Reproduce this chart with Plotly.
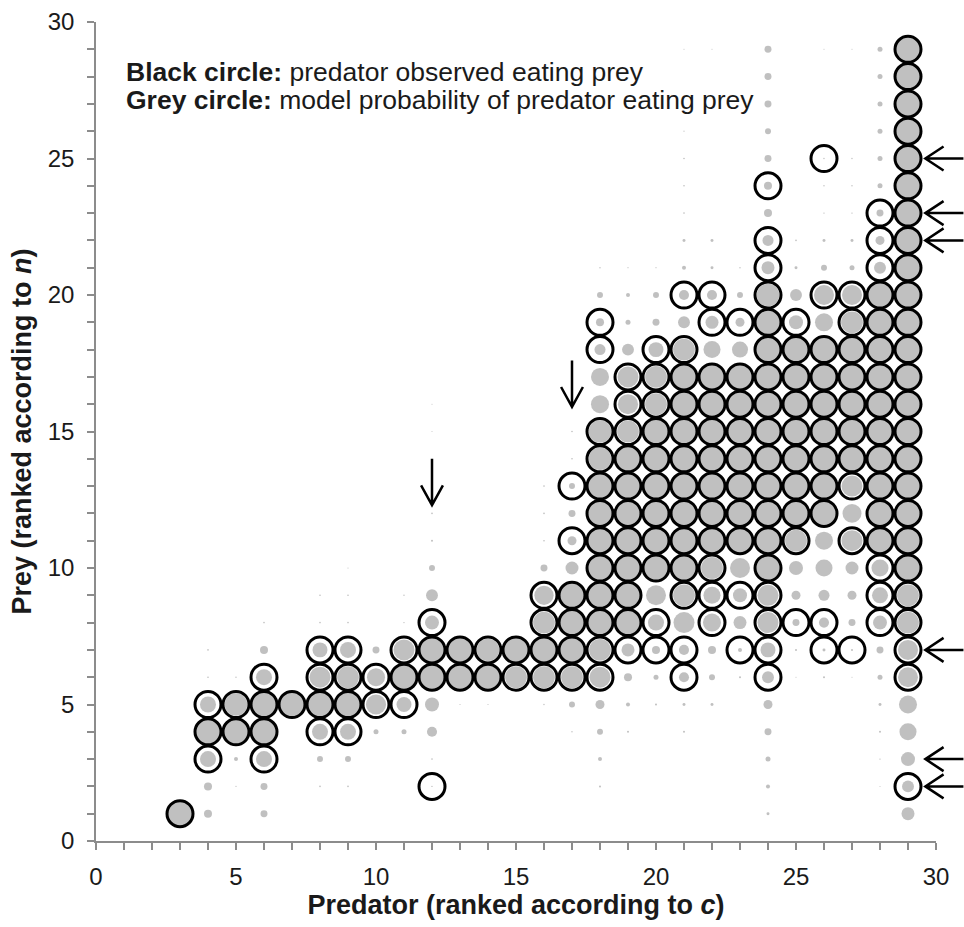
import math
import plotly.graph_objects as go

# ---------------- data ----------------
# model probability (grey circles): predator -> {prey: probability}
prob_03 = {1: 1.0}
prob_04 = {1: 0.095, 2: 0.095, 3: 0.38, 4: 1.0, 5: 0.38, 6: 0.004, 7: 0.004}
prob_05 = {2: 0.002, 3: 0.024, 4: 1.0, 5: 0.75, 6: 0.003}
prob_06 = {1: 0.072, 2: 0.072, 3: 0.38, 4: 1.0, 5: 1.0, 6: 0.38, 7: 0.095, 8: 0.004}
prob_07 = {5: 1.0}
prob_08 = {2: 0.004, 3: 0.053, 4: 0.38, 5: 1.0, 6: 0.65, 7: 0.33, 8: 0.004, 9: 0.004}
prob_09 = {2: 0.004, 3: 0.053, 4: 0.38, 5: 1.0, 6: 0.7, 7: 0.38, 8: 0.004, 9: 0.004, 10: 0.002}
prob_10 = {4: 0.037, 5: 0.6, 6: 0.48, 7: 0.072}
prob_11 = {4: 0.037, 5: 0.33, 6: 1.0, 7: 0.65, 8: 0.003, 9: 0.003}
prob_12 = {2: 0.003, 3: 0.004, 4: 0.15, 5: 0.29, 6: 1.0, 7: 1.0, 8: 0.29, 9: 0.21,
           10: 0.053, 11: 0.006, 12: 0.004, 15: 0.0015, 16: 0.0015}
prob_13 = {5: 0.002, 6: 1.0, 7: 0.9}
prob_14 = {5: 0.002, 6: 1.0, 7: 0.75}
prob_15 = {6: 0.7, 7: 1.0}
prob_16 = {5: 0.003, 6: 0.7, 7: 1.0, 8: 0.7, 9: 0.55, 10: 0.072, 11: 0.004, 12: 0.004, 13: 0.004}
prob_17 = {4: 0.003, 5: 0.053, 6: 0.7, 7: 1.0, 8: 1.0, 9: 1.0, 10: 0.25, 11: 0.12, 12: 0.072,
           13: 0.053, 14: 0.004, 15: 0.004}
prob_18 = {2: 0.006, 3: 0.024, 4: 0.053, 5: 0.12, 6: 0.65, 7: 0.7, 8: 1.0, 9: 1.0, 10: 1.0,
           11: 1.0, 12: 1.0, 13: 1.0, 14: 0.75, 15: 0.75, 16: 0.48, 17: 0.48, 18: 0.18,
           19: 0.095, 20: 0.053, 21: 0.003}
prob_19 = {4: 0.006, 5: 0.024, 6: 0.095, 7: 0.25, 8: 0.85, 9: 1.0, 10: 1.0, 11: 1.0, 12: 1.0,
           13: 1.0, 14: 1.0, 15: 0.7, 16: 0.6, 17: 0.65, 18: 0.21, 19: 0.037, 20: 0.024, 21: 0.002}
prob_20 = {5: 0.006, 6: 0.037, 7: 0.095, 8: 0.38, 9: 0.59, 10: 1.0, 11: 1.0, 12: 1.0, 13: 1.0,
           14: 1.0, 15: 1.0, 16: 0.7, 17: 0.7, 18: 0.33, 19: 0.072, 20: 0.053, 21: 0.002}
prob_21 = {4: 0.006, 5: 0.013, 6: 0.15, 7: 0.15, 8: 0.65, 9: 0.7, 10: 1.0, 11: 1.0, 12: 1.0,
           13: 1.0, 14: 1.0, 15: 1.0, 16: 1.0, 17: 1.0, 18: 0.7, 19: 0.21, 20: 0.15, 21: 0.024,
           22: 0.013, 23: 0.004, 24: 0.004, 25: 0.004, 26: 0.002, 29: 0.0015}
prob_22 = {5: 0.013, 6: 0.053, 7: 0.095, 8: 0.48, 9: 0.43, 10: 0.7, 11: 1.0, 12: 1.0, 13: 1.0,
           14: 1.0, 15: 1.0, 16: 1.0, 17: 1.0, 18: 0.43, 19: 0.25, 20: 0.15, 21: 0.013,
           22: 0.013, 29: 0.0015}
prob_23 = {6: 0.006, 7: 0.024, 8: 0.25, 9: 0.29, 10: 0.59, 11: 1.0, 12: 1.0, 13: 1.0, 14: 1.0,
           15: 1.0, 16: 1.0, 17: 1.0, 18: 0.38, 19: 0.12, 20: 0.053, 21: 0.003}
prob_24 = {1: 0.013, 2: 0.024, 3: 0.037, 4: 0.072, 5: 0.12, 6: 0.21, 7: 0.33, 8: 0.65, 9: 0.65,
           10: 1.0, 11: 1.0, 12: 1.0, 13: 1.0, 14: 1.0, 15: 1.0, 16: 1.0, 17: 1.0, 18: 1.0,
           19: 1.0, 20: 0.75, 21: 0.25, 22: 0.18, 23: 0.095, 24: 0.095, 25: 0.072, 26: 0.053,
           27: 0.072, 28: 0.072, 29: 0.072}
prob_25 = {6: 0.0015, 7: 0.006, 8: 0.072, 9: 0.12, 10: 0.29, 11: 0.7, 12: 0.9, 13: 0.9, 14: 1.0,
           15: 1.0, 16: 1.0, 17: 1.0, 18: 1.0, 19: 0.29, 20: 0.21, 21: 0.013, 22: 0.004}
prob_26 = {6: 0.006, 7: 0.013, 8: 0.15, 9: 0.18, 10: 0.43, 11: 0.48, 12: 0.9, 13: 0.9, 14: 1.0,
           15: 1.0, 16: 1.0, 17: 1.0, 18: 1.0, 19: 0.48, 20: 0.59, 21: 0.053, 22: 0.013,
           23: 0.003, 24: 0.003, 25: 0.003, 29: 0.0015}
prob_27 = {6: 0.0015, 7: 0.006, 8: 0.072, 9: 0.12, 10: 0.25, 11: 0.65, 12: 0.53, 13: 0.65,
           14: 1.0, 15: 1.0, 16: 1.0, 17: 1.0, 18: 1.0, 19: 0.7, 20: 0.59, 21: 0.037, 22: 0.013,
           23: 0.003, 24: 0.003, 25: 0.003, 29: 0.0015}
prob_28 = {2: 0.0015, 3: 0.003, 4: 0.006, 5: 0.013, 6: 0.037, 7: 0.072, 8: 0.29, 9: 0.38,
           10: 0.43, 11: 1.0, 12: 1.0, 13: 1.0, 14: 1.0, 15: 1.0, 16: 1.0, 17: 1.0, 18: 1.0,
           19: 1.0, 20: 1.0, 21: 0.21, 22: 0.12, 23: 0.072, 24: 0.037, 25: 0.037, 26: 0.037,
           27: 0.037, 28: 0.037, 29: 0.037}
prob_29 = {1: 0.25, 2: 0.21, 3: 0.29, 4: 0.43, 5: 0.48, 6: 0.59, 7: 0.59, 8: 0.7, 9: 0.7,
           10: 0.85, 11: 1.0, 12: 1.0, 13: 1.0, 14: 1.0, 15: 1.0, 16: 1.0, 17: 1.0, 18: 1.0,
           19: 1.0, 20: 1.0, 21: 1.0, 22: 1.0, 23: 1.0, 24: 1.0, 25: 1.0, 26: 1.0, 27: 1.0,
           28: 1.0, 29: 1.0}

model_prob = {3: prob_03, 4: prob_04, 5: prob_05, 6: prob_06, 7: prob_07, 8: prob_08,
              9: prob_09, 10: prob_10, 11: prob_11, 12: prob_12, 13: prob_13, 14: prob_14,
              15: prob_15, 16: prob_16, 17: prob_17, 18: prob_18, 19: prob_19, 20: prob_20,
              21: prob_21, 22: prob_22, 23: prob_23, 24: prob_24, 25: prob_25, 26: prob_26,
              27: prob_27, 28: prob_28, 29: prob_29}

# observed feeding links (black circles): predator -> prey list
observed = {
    3: [1], 4: [3, 4, 5], 5: [4, 5], 6: [3, 4, 5, 6], 7: [5],
    8: [4, 5, 6, 7], 9: [4, 5, 6, 7], 10: [5, 6], 11: [5, 6, 7], 12: [2, 6, 7, 8],
    13: [6, 7], 14: [6, 7], 15: [6, 7], 16: [6, 7, 8, 9], 17: [6, 7, 8, 9, 11, 13],
    18: [6, 7, 8, 9, 10, 11, 12, 13, 14, 15, 18, 19],
    19: [7, 8, 9, 10, 11, 12, 13, 14, 15, 16, 17],
    20: [7, 8, 10, 11, 12, 13, 14, 15, 16, 17, 18],
    21: [6, 7, 9, 10, 11, 12, 13, 14, 15, 16, 17, 18, 20],
    22: [8, 9, 10, 11, 12, 13, 14, 15, 16, 17, 19, 20],
    23: [7, 9, 11, 12, 13, 14, 15, 16, 17, 19],
    24: [6, 7, 8, 9, 10, 11, 12, 13, 14, 15, 16, 17, 18, 19, 20, 21, 22, 24],
    25: [8, 11, 12, 13, 14, 15, 16, 17, 18, 19],
    26: [7, 8, 12, 13, 14, 15, 16, 17, 18, 20, 25],
    27: [7, 11, 13, 14, 15, 16, 17, 18, 19, 20],
    28: [8, 9, 10, 11, 12, 13, 14, 15, 16, 17, 18, 19, 20, 21, 22, 23],
    29: [2, 6, 7, 8, 9, 10, 11, 12, 13, 14, 15, 16, 17, 18, 19, 20, 21, 22, 23, 24, 25,
         26, 27, 28, 29],
}

arrow_down_pred = [12, 17]          # predators flagged with a downward arrow
arrow_down_tip = [12.3, 15.9]
arrow_left_prey = [25, 23, 22, 7, 3, 2]   # prey flagged for predator 29

x_ticks = [0, 5, 10, 15, 20, 25, 30]
y_ticks = [0, 5, 10, 15, 20, 25, 30]

# ---------------- build ----------------
FULL = 26  # marker diameter (px) for probability 1
gx, gy, gs = [], [], []
for pred, col in model_prob.items():
    for prey, p in col.items():
        gx.append(pred)
        gy.append(prey)
        gs.append(FULL * math.sqrt(p))

ox, oy = [], []
for pred, preys in observed.items():
    for prey in preys:
        ox.append(pred)
        oy.append(prey)

fig = go.Figure()
fig.add_trace(go.Scatter(
    x=gx, y=gy, mode="markers", cliponaxis=False, hoverinfo="skip",
    marker=dict(size=gs, color="#a5a5a5", line=dict(width=0)), showlegend=False))
fig.add_trace(go.Scatter(
    x=ox, y=oy, mode="markers", cliponaxis=False, hoverinfo="skip",
    marker=dict(size=FULL, color="rgba(0,0,0,0)", line=dict(width=3, color="#000000")),
    showlegend=False))

XR, YR = 30.0, 30.0
shapes = []
for xp, tip in zip(arrow_down_pred, arrow_down_tip):
    px = xp / XR
    t = tip / YR
    tail = (tip + 1.7) / YR
    arm_y = (tip + 0.73) / YR
    dx = 0.39 / XR
    path = f"M {px} {tail} L {px} {t} M {px - dx} {arm_y} L {px} {t} L {px + dx} {arm_y}"
    shapes.append(dict(type="path", xref="paper", yref="paper", path=path,
                       line=dict(color="#000000", width=2.5)))
for prey in arrow_left_prey:
    tipx = 29.62 / XR
    tailx = 30.98 / XR
    armx = (29.62 + 0.65) / XR
    py = prey / YR
    dy = 0.44 / YR
    path = f"M {tailx} {py} L {tipx} {py} M {armx} {py + dy} L {tipx} {py} L {armx} {py - dy}"
    shapes.append(dict(type="path", xref="paper", yref="paper", path=path,
                       line=dict(color="#000000", width=2.5)))

FONT = "Liberation Sans, Arial, sans-serif"
axis_common = dict(
    range=[0, 30], showgrid=False, zeroline=False, showline=True,
    linecolor="#8c8c8c", linewidth=1.5, ticks="outside", ticklen=7,
    tickcolor="#8c8c8c", tickwidth=1.5,
    minor=dict(dtick=1, ticks="outside", ticklen=7, tickcolor="#8c8c8c", tickwidth=1.5,
               showgrid=False),
    tickfont=dict(family=FONT, size=24, color="#1a1a1a"),
    fixedrange=True,
)

fig.update_layout(
    width=964, height=927,
    margin=dict(l=96, r=28, t=22, b=86, autoexpand=False),
    paper_bgcolor="white", plot_bgcolor="white",
    xaxis=dict(**axis_common, tickvals=x_ticks, ticktext=[str(v) for v in x_ticks],
               ticklabelstandoff=6,
               title=dict(text="<b>Predator (ranked according to <i>c</i>)</b>",
                          font=dict(family=FONT, size=27, color="#1a1a1a"), standoff=4)),
    yaxis=dict(**axis_common, tickvals=y_ticks, ticktext=[str(v) for v in y_ticks],
               ticklabelstandoff=8,
               title=dict(text="<b>Prey (ranked according to <i>n</i>)</b>",
                          font=dict(family=FONT, size=27, color="#1a1a1a"), standoff=8)),
    shapes=shapes,
    annotations=[
        dict(xref="paper", yref="paper", x=(124 - 96) / 840, y=(841 - 72) / 819,
             xanchor="left", yanchor="middle", showarrow=False, align="left",
             text="<b>Black circle:</b> predator observed eating prey",
             font=dict(family=FONT, size=26.5, color="#1a1a1a")),
        dict(xref="paper", yref="paper", x=(124 - 96) / 840, y=(841 - 100) / 819,
             xanchor="left", yanchor="middle", showarrow=False, align="left",
             text="<b>Grey circle:</b> model probability of predator eating prey",
             font=dict(family=FONT, size=26.5, color="#1a1a1a")),
    ],
)

fig.write_html("out.html")
